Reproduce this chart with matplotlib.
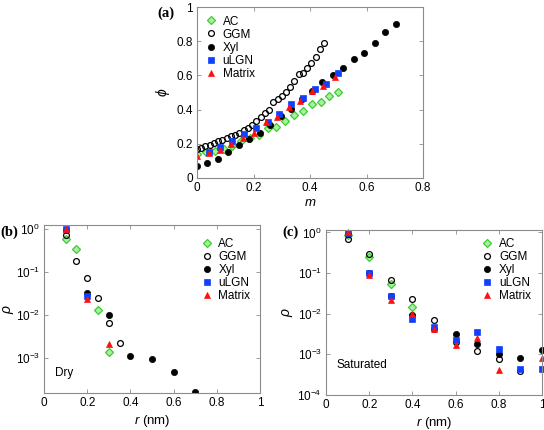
import numpy as np
import matplotlib
matplotlib.use('Agg')
from matplotlib import pyplot as plt
from matplotlib.ticker import FuncFormatter, NullLocator, FixedLocator

plt.rcParams['font.family'] = ['Liberation Sans', 'DejaVu Sans']
plt.rcParams['mathtext.fontset'] = 'custom'
plt.rcParams['mathtext.rm'] = 'Liberation Sans'
plt.rcParams['mathtext.it'] = 'Liberation Sans:italic'
plt.rcParams['font.size'] = 8.5

# panel (a): phi vs m
ac_m = [0, 0.031, 0.063, 0.094, 0.125, 0.156, 0.188, 0.219, 0.25, 0.281, 0.313, 0.344, 0.375, 0.406, 0.438, 0.469, 0.5]
ac_phi = [0.142, 0.15, 0.16, 0.17, 0.19, 0.215, 0.235, 0.25, 0.29, 0.30, 0.335, 0.37, 0.39, 0.43, 0.446, 0.481, 0.503]
ggm_m = [0, 0.015, 0.03, 0.045, 0.06, 0.075, 0.09, 0.105, 0.12, 0.135, 0.15, 0.165, 0.18, 0.195, 0.21,
         0.225, 0.24, 0.255, 0.27, 0.285, 0.30, 0.315, 0.33, 0.345, 0.36, 0.375, 0.39, 0.405, 0.42, 0.435, 0.45]
ggm_phi = [0.168, 0.178, 0.186, 0.195, 0.204, 0.214, 0.224, 0.233, 0.244, 0.254, 0.265, 0.28, 0.293, 0.31, 0.335,
           0.355, 0.38, 0.40, 0.445, 0.46, 0.48, 0.505, 0.535, 0.565, 0.61, 0.615, 0.642, 0.67, 0.71, 0.755, 0.79]
xyl_m = [0, 0.037, 0.074, 0.111, 0.148, 0.185, 0.222, 0.259, 0.296, 0.333, 0.37, 0.407, 0.444, 0.481, 0.518,
         0.555, 0.592, 0.629, 0.666, 0.703]
xyl_phi = [0.068, 0.09, 0.112, 0.15, 0.193, 0.23, 0.262, 0.312, 0.36, 0.405, 0.46, 0.51, 0.56, 0.605, 0.642,
           0.697, 0.732, 0.787, 0.852, 0.898]
ulgn_m = [0.042, 0.083, 0.125, 0.167, 0.208, 0.25, 0.292, 0.333, 0.375, 0.417, 0.458, 0.5]
ulgn_phi = [0.15, 0.184, 0.219, 0.258, 0.291, 0.33, 0.373, 0.435, 0.468, 0.518, 0.548, 0.612]
mat_m = [0, 0.041, 0.081, 0.122, 0.163, 0.203, 0.244, 0.284, 0.325, 0.366, 0.406, 0.447, 0.488]
mat_phi = [0.126, 0.146, 0.163, 0.196, 0.235, 0.262, 0.328, 0.355, 0.417, 0.45, 0.509, 0.536, 0.588]

# panel (b): dry
dry_ac_r = [0.1, 0.15, 0.25, 0.3]
dry_ac = [0.58, 0.34, 0.013, 0.0014]
dry_ggm_r = [0.1, 0.15, 0.2, 0.25, 0.3, 0.35]
dry_ggm = [0.73, 0.176, 0.072, 0.025, 0.0066, 0.0023]
dry_xyl_r = [0.1, 0.2, 0.3, 0.4, 0.5, 0.6, 0.7]
dry_xyl = [0.95, 0.033, 0.0098, 0.0011, 0.00094, 0.00047, 0.00016]
dry_ulgn_r = [0.1, 0.2]
dry_ulgn = [0.97, 0.028]
dry_mat_r = [0.1, 0.2, 0.3]
dry_mat = [1.0, 0.024, 0.0021]

# panel (c): saturated
sat_ac_r = [0.1, 0.2, 0.3, 0.4]
sat_ac = [0.85, 0.25, 0.053, 0.0147]
sat_r = [0.1, 0.2, 0.3, 0.4, 0.5, 0.6, 0.7, 0.8, 0.9, 1.0]
sat_ggm = [0.70, 0.30, 0.069, 0.023, 0.0069, 0.0020, 0.0012, 0.00079, 0.00039, np.nan]
sat_xyl = [0.9, 0.10, 0.028, 0.0091, 0.0042, 0.0032, 0.0018, 0.00104, 0.00082, 0.00126]
sat_ulgn = [0.95, 0.10, 0.027, 0.0076, 0.0046, 0.0022, 0.0035, 0.00134, 0.00043, 0.00043]
sat_mat = [1.0, 0.088, 0.022, 0.0100, 0.0042, 0.00167, 0.0025, 0.00041, np.nan, 0.00083]

styles = {
    'AC': dict(marker='D', ms=3.6, mfc='#a8f0a0', mec='#3ccc30', mew=0.9),
    'GGM': dict(marker='o', ms=4.2, mfc='none', mec='k', mew=0.9),
    'Xyl': dict(marker='o', ms=4.5, mfc='k', mec='k', mew=0.5),
    'uLGN': dict(marker='s', ms=3.8, mfc='#1040ff', mec='#1040ff', mew=0.5),
    'Matrix': dict(marker='^', ms=5.0, mfc='#ff1010', mec='#ff1010', mew=0.5),
}
spine_col = '#8c8c8c'
num_fmt = FuncFormatter(lambda v, p: '%g' % v)
leg_kw = dict(loc='upper left', frameon=False, borderpad=0, borderaxespad=0,
              handlelength=1, handletextpad=0.5, labelspacing=0.09, fontsize=8.5)


def style_axes(ax):
    for s in ax.spines.values():
        s.set_color(spine_col)
        s.set_linewidth(0.8)
    ax.tick_params(direction='in', top=True, right=True, length=3, width=0.6,
                   color=spine_col, labelcolor='k', labelsize=8.5, pad=3)


def panel_label(fig, x, y, s):
    fig.text(x / 544, 1 - y / 430, s, family='Liberation Serif', weight='bold', size=10.5,
             ha='left', va='center')


fig = plt.figure(figsize=(5.44, 4.3), dpi=100)

# (a)
ax = fig.add_axes([197 / 544, 1 - 178 / 430, 226 / 544, 171 / 430])
for nm, xs, ys in [('AC', ac_m, ac_phi), ('GGM', ggm_m, ggm_phi), ('Xyl', xyl_m, xyl_phi),
                   ('uLGN', ulgn_m, ulgn_phi), ('Matrix', mat_m, mat_phi)]:
    ax.plot(xs, ys, ls='none', label=nm, **styles[nm])
ax.set_xlim(0, 0.8)
ax.set_ylim(0, 1)
ax.set_xticks(np.arange(0, 0.81, 0.2))
ax.set_yticks(np.arange(0, 1.01, 0.2))
ax.xaxis.set_major_formatter(num_fmt)
ax.yaxis.set_major_formatter(num_fmt)
style_axes(ax)
ax.set_xlabel('$m$', size=9.5, labelpad=2)
ax.set_ylabel(r'$\phi$', size=10, labelpad=3)
ax.legend(bbox_to_anchor=(0.035, 0.95), **leg_kw)
panel_label(fig, 157, 13, '(a)')

# (b)
ax = fig.add_axes([44 / 544, 1 - 393 / 430, 216 / 544, 168 / 430])
for nm, xs, ys in [('AC', dry_ac_r, dry_ac), ('GGM', dry_ggm_r, dry_ggm), ('Xyl', dry_xyl_r, dry_xyl),
                   ('uLGN', dry_ulgn_r, dry_ulgn), ('Matrix', dry_mat_r, dry_mat)]:
    ax.plot(xs, ys, ls='none', label=nm, **styles[nm])
ax.set_yscale('log')
ax.set_xlim(0, 1)
ax.set_ylim(10 ** -3.81, 10 ** 0.09)
ax.set_xticks(np.arange(0, 1.01, 0.2))
ax.xaxis.set_major_formatter(num_fmt)
ax.yaxis.set_major_locator(FixedLocator([1e-3, 1e-2, 1e-1, 1]))
ax.yaxis.set_minor_locator(NullLocator())
style_axes(ax)
ax.set_xlabel('$r$ (nm)', size=9.5, labelpad=3)
ax.set_ylabel(r'$\rho$', size=10, labelpad=0)
ax.text(0.05, 0.12, 'Dry', transform=ax.transAxes, ha='left', va='center', size=8.5)
ax.legend(bbox_to_anchor=(0.725, 0.923), **leg_kw)
panel_label(fig, 0, 232, '(b)')

# (c)
ax = fig.add_axes([326 / 544, 1 - 395 / 430, 216 / 544, 165 / 430])
ax.plot(sat_ac_r, sat_ac, ls='none', label='AC', **styles['AC'])
for nm, ys in [('GGM', sat_ggm), ('Xyl', sat_xyl), ('uLGN', sat_ulgn), ('Matrix', sat_mat)]:
    ax.plot(sat_r, ys, ls='none', label=nm, clip_on=False, **styles[nm])
ax.set_yscale('log')
ax.set_xlim(0, 1)
ax.set_ylim(1e-4, 10 ** 0.06)
ax.set_xticks(np.arange(0, 1.01, 0.2))
ax.xaxis.set_major_formatter(num_fmt)
ax.yaxis.set_major_locator(FixedLocator([1e-4, 1e-3, 1e-2, 1e-1, 1]))
ax.yaxis.set_minor_locator(NullLocator())
style_axes(ax)
ax.set_xlabel('$r$ (nm)', size=9.5, labelpad=3)
ax.set_ylabel(r'$\rho$', size=10, labelpad=2)
ax.text(0.05, 0.18, 'Saturated', transform=ax.transAxes, ha='left', va='center', size=8.5)
ax.legend(bbox_to_anchor=(0.72, 0.951), **leg_kw)
panel_label(fig, 282, 232, '(c)')

fig.savefig('out.png', dpi=100)
